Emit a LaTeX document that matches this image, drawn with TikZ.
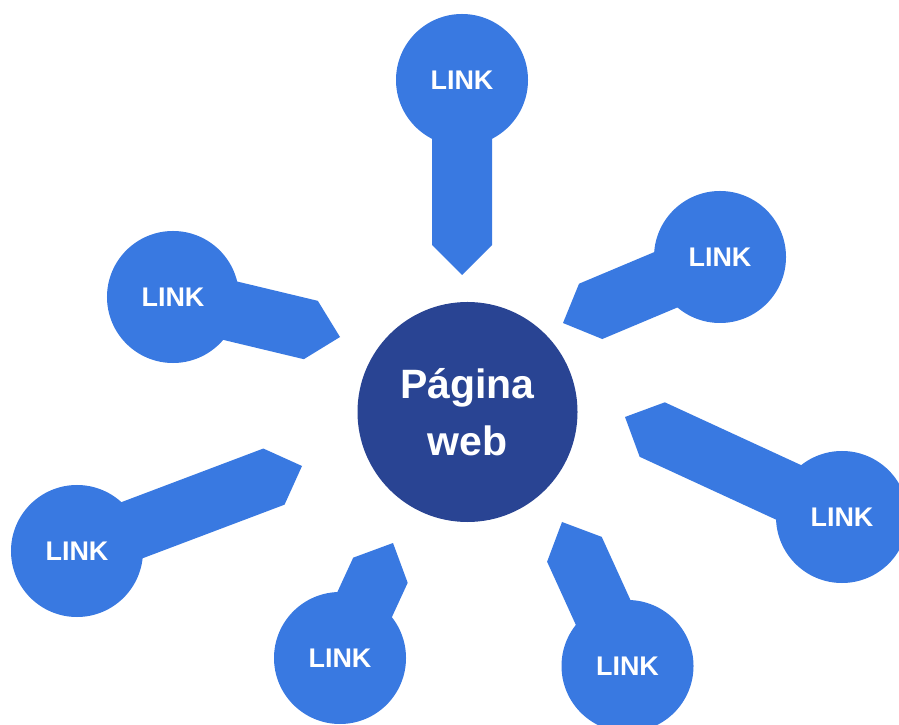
\documentclass[tikz,border=0pt]{standalone}
\usepackage{fontspec}
\setmainfont{Liberation Sans}
\usetikzlibrary{calc}

\definecolor{linkblue}{RGB}{57,121,225}
\definecolor{webblue}{RGB}{41,68,147}

\tikzset{
  linkcircle/.style={circle, fill=linkblue, inner sep=0pt, minimum size=3.96cm,
    text=white, font=\fontsize{23}{27}\selectfont\bfseries},
  webcircle/.style={circle, fill=webblue, inner sep=0pt, minimum size=6.6cm,
    text=white, align=center, font=\fontsize{35}{48.5}\selectfont\bfseries},
}

\begin{document}
\begin{tikzpicture}[x=0.03cm, y=0.03cm]
\useasboundingbox[fill=white] (0,0) rectangle (899,724);

\node[webcircle] (web) at (467.5,312) {Página\\web};

\node[linkcircle] (l1) at (462,644) {LINK};
\node[linkcircle] (l2) at (720,467) {LINK};
\node[linkcircle] (l3) at (173,427) {LINK};
\node[linkcircle] (l4) at (842,207) {LINK};
\node[linkcircle] (l5) at (77,173) {LINK};
\node[linkcircle] (l6) at (340,66) {LINK};
\node[linkcircle] (l7) at (627.5,58) {LINK};

% arrow points of the shafts
\coordinate (t1) at (462,449);
\coordinate (t2) at (563,401);
\coordinate (t3) at (340,387);
\coordinate (t4) at (625,307);
\coordinate (t5) at (302,258);
\coordinate (t6) at (393,181);
\coordinate (t7) at (562,202);

\foreach \l/\t in {l1/t1, l2/t2, l3/t3, l4/t4, l5/t5, l6/t6, l7/t7} {
  \coordinate (s) at ($(\l)!1.68cm!(\t)$);
  \coordinate (m) at ($(\t)!0.9cm!(\l)$);
  \fill[linkblue] ($(s)!0.9cm!90:(\t)$) -- ($(m)!0.9cm!90:(\t)$) -- (\t)
    -- ($(m)!0.9cm!-90:(\t)$) -- ($(s)!0.9cm!-90:(\t)$) -- cycle;
}

\end{tikzpicture}
\end{document}
